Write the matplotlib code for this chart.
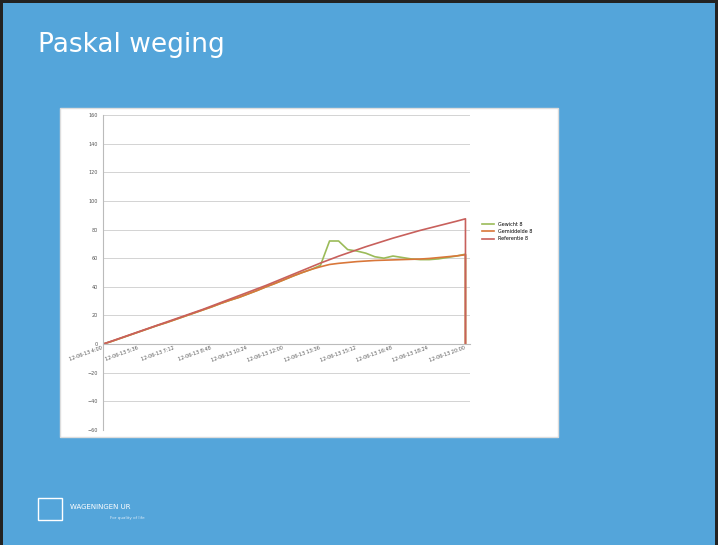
import matplotlib.pyplot as plt
import matplotlib.patches as patches

# data
red = [0, 2.2, 4.4, 6.6, 8.8, 11, 13.2, 15.4, 17.6, 19.8, 22, 24.2, 26.6, 29, 31.4, 33.8, 36.2,
       38.6, 41, 43.6, 46.2, 48.8, 51.4, 54, 56.6, 59, 61.4, 63.6, 65.8, 68, 70, 72, 74, 75.8,
       77.6, 79.4, 81, 82.6, 84.2, 85.8, 87.5, 0]
orange = [0, 2, 4.2, 6.4, 8.6, 10.8, 13, 15, 17.2, 19.4, 21.6, 23.8, 26, 28.4, 30.6, 32.6, 35,
          37.4, 40, 42.4, 45, 47.6, 50, 52.2, 54, 55.6, 56.4, 57, 57.6, 58, 58.4, 58.6, 58.8, 59,
          59.2, 59.4, 59.8, 60.4, 61, 61.6, 62.4, 0]
green = [0, 2, 4.2, 6.4, 8.6, 10.8, 13, 15, 17.2, 19.4, 21.6, 23.8, 26, 28.4, 30.6, 32.6, 35,
         37.4, 40, 42.4, 45, 47.6, 50, 52.2, 55, 72, 72, 66, 65, 63.5, 61, 60, 61.5, 60.5, 59.5,
         59, 59, 59.5, 60.5, 61.5, 62.8, 0]
xpos = list(range(41)) + [40]
xtick_pos = list(range(0, 41, 4))
xtick_labels = ['12-06-13 4:00', '12-06-13 5:36', '12-06-13 7:12', '12-06-13 8:48',
                '12-06-13 10:24', '12-06-13 12:00', '12-06-13 13:36', '12-06-13 15:12',
                '12-06-13 16:48', '12-06-13 18:24', '12-06-13 20:00']
names = ['Gewicht 8', 'Gemiddelde 8', 'Referentie 8']

fig = plt.figure(figsize=(7.18, 5.45), dpi=100)
fig.patch.set_facecolor('#222222')
bg = patches.Rectangle((3 / 718, 0), 712 / 718, 542 / 545, transform=fig.transFigure,
                       facecolor='#54A5DA', edgecolor='none', zorder=-2)
fig.add_artist(bg)
fig.text(38 / 718, 1 - 45 / 545, 'Paskal weging', color='white', fontsize=19, va='center')

panel = patches.Rectangle((60 / 718, 1 - 437 / 545), 498 / 718, 329 / 545,
                          transform=fig.transFigure, facecolor='white', edgecolor='#dddddd',
                          zorder=-1)
fig.add_artist(panel)

ax = fig.add_axes([103 / 718, 1 - 430 / 545, 367 / 718, 315 / 545])
ax.set_facecolor('white')
ax.spines['bottom'].set_position(('data', 0))
for s in ['top', 'right']:
    ax.spines[s].set_visible(False)
ax.spines['left'].set_color('#bbbbbb')
ax.spines['bottom'].set_color('#bbbbbb')

ax.plot(xpos, green, color='#9BBB59', lw=1.2, label=names[0])
ax.plot(xpos, orange, color='#D9773A', lw=1.2, label=names[1])
ax.plot(xpos, red, color='#C8605C', lw=1.2, label=names[2])
ax.set_ylim(-60, 160)
ax.set_xlim(0, 40.5)
ax.set_yticks(range(-60, 161, 20))
ax.tick_params(axis='y', labelsize=3.5, length=0, colors='#555555')
ax.set_xticks(xtick_pos)
ax.set_xticklabels(xtick_labels, rotation=20, ha='right', fontsize=3.5, color='#555555')
ax.tick_params(axis='x', length=0, pad=1)
ax.grid(axis='y', color='#cccccc', lw=0.6)
ax.set_axisbelow(True)
ax.legend(loc='center left', bbox_to_anchor=(1.02, 0.63), frameon=False, fontsize=3.5,
          handlelength=2.5)

# footer logo text
fig.text(70 / 718, 1 - 507 / 545, 'WAGENINGEN UR', color='white', fontsize=5, va='center')
fig.text(110 / 718, 1 - 518 / 545, 'For quality of life', color='#dcebf7', fontsize=3, va='center')
logo = patches.Rectangle((38 / 718, 1 - 520 / 545), 24 / 718, 22 / 545, transform=fig.transFigure,
                         facecolor='none', edgecolor='white', lw=1)
fig.add_artist(logo)

fig.savefig('out.png', dpi=100)
